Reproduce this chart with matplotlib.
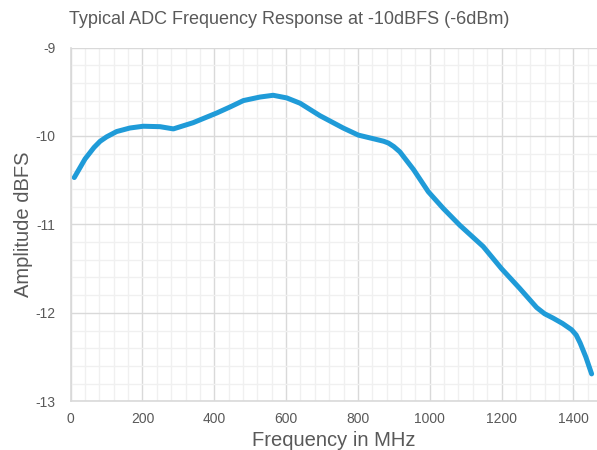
import matplotlib
matplotlib.use('Agg')
import matplotlib.pyplot as plt
from matplotlib.ticker import MultipleLocator

freq_mhz = [10, 40, 65, 82, 100, 128, 165, 202, 249, 286, 341, 407, 445, 481,
            527, 564, 602, 639, 694, 759, 801, 852, 872, 885, 900, 917, 955,
            996, 1038, 1084, 1149, 1200, 1250, 1298, 1320, 1344, 1370, 1395,
            1408, 1419, 1435, 1451]
amp_dbfs = [-10.47, -10.26, -10.13, -10.06, -10.01, -9.95, -9.91, -9.89,
            -9.895, -9.92, -9.85, -9.74, -9.67, -9.60, -9.56, -9.54, -9.57,
            -9.63, -9.77, -9.91, -9.99, -10.04, -10.06, -10.08, -10.12,
            -10.18, -10.38, -10.63, -10.82, -11.01, -11.25, -11.50, -11.72,
            -11.94, -12.01, -12.06, -12.12, -12.19, -12.25, -12.34, -12.50,
            -12.69]

txt = '#595959'
plt.rcParams['font.family'] = ['Liberation Sans', 'DejaVu Sans']

fig = plt.figure(figsize=(5.97, 4.5), dpi=100)
ax = fig.add_axes([0.1184, 0.1082, 0.8816, 0.7862])

ax.plot(freq_mhz, amp_dbfs, color='#1f9bd8', lw=3.6,
        solid_capstyle='round', solid_joinstyle='round')

ax.set_xlim(0, 1466)
ax.set_ylim(-13, -9)
ax.xaxis.set_major_locator(MultipleLocator(200))
ax.xaxis.set_minor_locator(MultipleLocator(40))
ax.yaxis.set_minor_locator(MultipleLocator(0.2))
ax.set_yticks([-13, -12, -11, -10, -9])
ax.set_yticklabels(['-13', '-12', '-11', '-10', '-9'])

ax.grid(which='major', color='#d9d9d9', lw=1.0)
ax.grid(which='minor', color='#f0f0f0', lw=1.0)
ax.set_axisbelow(True)
for s in ['top', 'right']:
    ax.spines[s].set_visible(False)
for s in ['left', 'bottom']:
    ax.spines[s].set_color('#d9d9d9')
    ax.spines[s].set_linewidth(1.2)
ax.tick_params(which='both', length=0, colors=txt, labelsize=10)
ax.tick_params(axis='x', pad=8)
ax.tick_params(axis='y', pad=11)

ax.set_xlabel('Frequency in MHz', color=txt, fontsize=14.5, labelpad=3)
ax.set_ylabel('Amplitude dBFS', color=txt, fontsize=14.5, labelpad=1.5)
fig.text(0.484, 0.956, 'Typical ADC Frequency Response at -10dBFS (-6dBm)',
         ha='center', va='center', color=txt, fontsize=13)

fig.savefig('out.png', dpi=100)
